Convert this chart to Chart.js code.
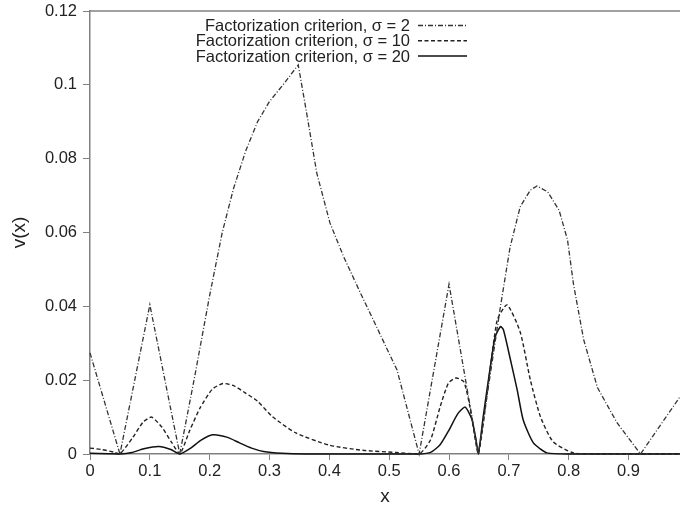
<!DOCTYPE html>
<html>
<head>
<meta charset="utf-8">
<title>v(x)</title>
<script src="https://cdn.jsdelivr.net/npm/chart.js@4.4.1/dist/chart.umd.min.js"></script>
<style>
    html, body { margin: 0; padding: 0; background: #fff; }
    canvas { display: block; }
</style>
</head>
<body>
<canvas id="vChart" width="680" height="512"></canvas>
<script>
// sigma = 2
var sigma2X = [0, 0.05, 0.1, 0.15, 0.175, 0.2, 0.221, 0.24, 0.26, 0.28, 0.3, 0.325, 0.348, 0.362, 0.379, 0.401, 0.424, 0.452, 0.479, 0.513, 0.55, 0.6, 0.649, 0.686, 0.702, 0.719, 0.736, 0.747, 0.765, 0.784, 0.798, 0.808, 0.825, 0.848, 0.881, 0.92, 0.986];
var sigma2Y = [0.0274, 0, 0.0404, 0, 0.021, 0.043, 0.060, 0.072, 0.082, 0.090, 0.0955, 0.1005, 0.1054, 0.0924, 0.0761, 0.0626, 0.0534, 0.0436, 0.0344, 0.0228, 0, 0.046, 0, 0.040, 0.056, 0.067, 0.0715, 0.0726, 0.071, 0.066, 0.058, 0.046, 0.031, 0.018, 0.0084, 0, 0.0155];

// sigma = 10
var sigma10X = [0, 0.02, 0.04, 0.05, 0.072, 0.089, 0.103, 0.12, 0.137, 0.15, 0.167, 0.184, 0.204, 0.222, 0.24, 0.26, 0.28, 0.305, 0.344, 0.4, 0.456, 0.512, 0.55, 0.569, 0.585, 0.599, 0.612, 0.625, 0.635, 0.649, 0.68, 0.697, 0.719, 0.736, 0.753, 0.774, 0.808, 0.85, 0.986];
var sigma10Y = [0.0016, 0.0012, 0.0005, 0, 0.0046, 0.0087, 0.0100, 0.0073, 0.003, 0, 0.0065, 0.0125, 0.0175, 0.0191, 0.0185, 0.0165, 0.0143, 0.0101, 0.0057, 0.0024, 0.001, 0.0004, 0, 0.0038, 0.0127, 0.0192, 0.0206, 0.0195, 0.0127, 0, 0.036, 0.0404, 0.033, 0.020, 0.010, 0.0033, 0.0003, 0, 0];

// sigma = 20
var sigma20X = [0, 0.03, 0.05, 0.07, 0.09, 0.115, 0.135, 0.15, 0.17, 0.185, 0.205, 0.23, 0.25, 0.27, 0.29, 0.32, 0.36, 0.55, 0.57, 0.585, 0.6, 0.615, 0.627, 0.638, 0.645, 0.649, 0.657, 0.669, 0.677, 0.686, 0.691, 0.702, 0.714, 0.724, 0.741, 0.764, 0.8, 0.986];
var sigma20Y = [0.0002, 0.0001, 0, 0.0004, 0.0014, 0.002, 0.0012, 0, 0.0018, 0.0037, 0.0052, 0.0045, 0.003, 0.0016, 0.0007, 0.0002, 0, 0, 0.0005, 0.0025, 0.0065, 0.011, 0.0127, 0.0095, 0.004, 0, 0.010, 0.0236, 0.0317, 0.0345, 0.0336, 0.026, 0.0173, 0.0092, 0.003, 0.0003, 0, 0];

var seriesLabels = ['Factorization criterion, \u03c3 = 2', 'Factorization criterion, \u03c3 = 10', 'Factorization criterion, \u03c3 = 20'];
var xTicks = [0, 0.1, 0.2, 0.3, 0.4, 0.5, 0.6, 0.7, 0.8, 0.9];
var yTicks = [0, 0.02, 0.04, 0.06, 0.08, 0.1, 0.12];

function toPoints(xs, ys) {
    return xs.map(function(x, i) { return { x: x, y: ys[i] }; });
}

var axisColor = '#808080';
var inkColor = '#222';
var fontFamily = '"Liberation Sans", Arial, Helvetica, sans-serif';

// gnuplot-style key: text first, then a short sample of the line
var keyPlugin = {
    id: 'key',
    afterDraw: function(chart) {
        var ctx = chart.ctx;
        ctx.save();
        ctx.font = '16.5px ' + fontFamily;
        ctx.fillStyle = inkColor;
        ctx.textAlign = 'right';
        ctx.textBaseline = 'alphabetic';
        chart.data.datasets.forEach(function(ds, i) {
            var base = 31 + i * 15.3;
            ctx.fillText(ds.label, 410, base);
            ctx.beginPath();
            ctx.setLineDash(ds.borderDash || []);
            ctx.lineWidth = ds.borderWidth;
            ctx.strokeStyle = ds.borderColor;
            ctx.moveTo(418, base - 5.5);
            ctx.lineTo(467, base - 5.5);
            ctx.stroke();
        });
        // top edge of the frame
        var a = chart.chartArea;
        ctx.setLineDash([]);
        ctx.strokeStyle = axisColor;
        ctx.lineWidth = 1.5;
        ctx.beginPath();
        ctx.moveTo(a.left, a.top);
        ctx.lineTo(a.right, a.top);
        ctx.stroke();
        ctx.restore();
    }
};

var ctx = document.getElementById('vChart').getContext('2d');

var vChart = new Chart(ctx, {
    type: 'line',
    data: {
        datasets: [{
            label: seriesLabels[0],
            data: toPoints(sigma2X, sigma2Y),
            borderColor: '#333',
            borderWidth: 1.3,
            borderDash: [5, 2, 1, 2],
            tension: 0
        }, {
            label: seriesLabels[1],
            data: toPoints(sigma10X, sigma10Y),
            borderColor: '#222',
            borderWidth: 1.4,
            borderDash: [4, 2.5],
            tension: 0.2
        }, {
            label: seriesLabels[2],
            data: toPoints(sigma20X, sigma20Y),
            borderColor: '#111',
            borderWidth: 1.5,
            borderDash: [],
            tension: 0.2
        }]
    },
    options: {
        responsive: false,
        animation: false,
        clip: false,
        layout: { padding: { top: 11, right: 0, left: 0, bottom: 0 } },
        elements: {
            point: { radius: 0 },
            line: { fill: false }
        },
        plugins: {
            legend: { display: false },
            tooltip: { enabled: false }
        },
        scales: {
            x: {
                type: 'linear',
                min: 0,
                max: 0.986,
                afterBuildTicks: function(axis) {
                    axis.ticks = xTicks.map(function(v) { return { value: v }; });
                },
                afterFit: function(axis) {
                    axis.height = 58;
                    axis.paddingLeft = 0;
                    axis.paddingRight = 0;
                },
                ticks: {
                    color: inkColor,
                    font: { family: fontFamily, size: 16.5 },
                    padding: 2,
                    maxRotation: 0,
                    callback: function(v) { return String(+v.toFixed(3)); }
                },
                grid: {
                    drawOnChartArea: false,
                    drawTicks: true,
                    tickLength: 6,
                    tickColor: axisColor
                },
                border: { color: axisColor, width: 1.5 },
                title: {
                    display: true,
                    text: 'x',
                    color: inkColor,
                    font: { family: fontFamily, size: 19 },
                    padding: { top: 0, bottom: 4 }
                }
            },
            y: {
                min: 0,
                max: 0.12,
                afterBuildTicks: function(axis) {
                    axis.ticks = yTicks.map(function(v) { return { value: v }; });
                },
                afterFit: function(axis) {
                    axis.width = 90;
                    axis.paddingTop = 0;
                    axis.paddingBottom = 0;
                },
                ticks: {
                    color: inkColor,
                    font: { family: fontFamily, size: 16.5 },
                    padding: 6,
                    callback: function(v) { return String(+v.toFixed(3)); }
                },
                grid: {
                    drawOnChartArea: false,
                    drawTicks: true,
                    tickLength: 7,
                    tickColor: axisColor
                },
                border: { color: axisColor, width: 1.5 },
                title: {
                    display: true,
                    text: 'v(x)',
                    color: inkColor,
                    font: { family: fontFamily, size: 19 },
                    padding: { top: 8, bottom: 0 }
                }
            }
        }
    },
    plugins: [keyPlugin]
});
</script>
</body>
</html>
